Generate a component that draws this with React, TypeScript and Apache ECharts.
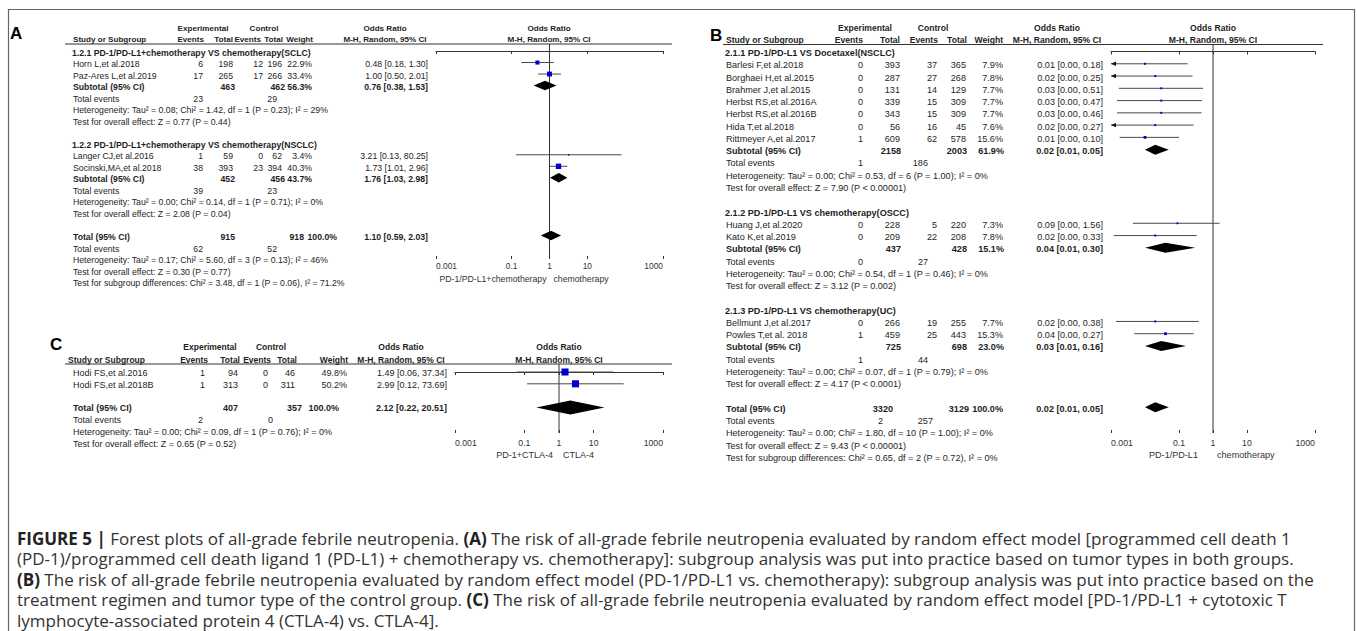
import React, { useEffect, useRef } from "react";
import * as echarts from "echarts";

const FONT = '"Liberation Sans", Arial, Helvetica, sans-serif';
const CAP_FONT = '"Open Sans", "Liberation Sans", Arial, sans-serif';

// ===================== Panel A data =====================
const aGroupTitles = [
  "1.2.1 PD-1/PD-L1+chemotherapy VS chemotherapy(SCLC)",
  "1.2.2 PD-1/PD-L1+chemotherapy VS chemotherapy(NSCLC)",
];
const aStudies = ["Horn L,et al.2018", "Paz-Ares L,et al.2019", "Langer CJ,et al.2016", "Socinski,MA,et al.2018"];
const aStudyGroup = [0, 0, 1, 1];
const aExpEvents = [6, 17, 1, 38];
const aExpTotal = [198, 265, 59, 393];
const aCtlEvents = [12, 17, 0, 23];
const aCtlTotal = [196, 266, 62, 394];
const aWeight = [22.9, 33.4, 3.4, 40.3];
const aOR = [0.48, 1.0, 3.21, 1.73];
const aLow = [0.18, 0.5, 0.13, 1.01];
const aHigh = [1.3, 2.01, 80.25, 2.96];
const aSubExpTotal = [463, 452];
const aSubCtlTotal = [462, 456];
const aSubWeight = [56.3, 43.7];
const aSubExpEvents = [23, 39];
const aSubCtlEvents = [29, 23];
const aSubOR = [0.76, 1.76];
const aSubLow = [0.38, 1.03];
const aSubHigh = [1.53, 2.98];
const aSubHet = [
  "Heterogeneity: Tau² = 0.08; Chi² = 1.42, df = 1 (P = 0.23); I² = 29%",
  "Heterogeneity: Tau² = 0.00; Chi² = 0.14, df = 1 (P = 0.71); I² = 0%",
];
const aSubTest = ["Test for overall effect: Z = 0.77 (P = 0.44)", "Test for overall effect: Z = 2.08 (P = 0.04)"];
const aTotalN = [915, 918];
const aTotalEvents = [62, 52];
const aTotalOR = [1.1, 0.59, 2.03];
const aTotalNotes = [
  "Heterogeneity: Tau² = 0.17; Chi² = 5.60, df = 3 (P = 0.13); I² = 46%",
  "Test for overall effect: Z = 0.30 (P = 0.77)",
  "Test for subgroup differences: Chi² = 3.48, df = 1 (P = 0.06), I² = 71.2%",
];
const aSides = ["PD-1/PD-L1+chemotherapy", "chemotherapy"];

// ===================== Panel B data =====================
const bGroupTitles = [
  "2.1.1 PD-1/PD-L1 VS Docetaxel(NSCLC)",
  "2.1.2 PD-1/PD-L1 VS chemotherapy(OSCC)",
  "2.1.3 PD-1/PD-L1 VS chemotherapy(UC)",
];
const bStudies = [
  "Barlesi F,et al.2018",
  "Borghaei H,et al.2015",
  "Brahmer J,et al.2015",
  "Herbst RS,et al.2016A",
  "Herbst RS,et al.2016B",
  "Hida T,et al.2018",
  "Rittmeyer A,et al.2017",
  "Huang J,et al.2020",
  "Kato K,et al.2019",
  "Bellmunt J,et al.2017",
  "Powles T,et al. 2018",
];
const bStudyGroup = [0, 0, 0, 0, 0, 0, 0, 1, 1, 2, 2];
const bExpEvents = [0, 0, 0, 0, 0, 0, 1, 0, 0, 0, 1];
const bExpTotal = [393, 287, 131, 339, 343, 56, 609, 228, 209, 266, 459];
const bCtlEvents = [37, 27, 14, 15, 15, 16, 62, 5, 22, 19, 25];
const bCtlTotal = [365, 268, 129, 309, 309, 45, 578, 220, 208, 255, 443];
const bWeight = [7.9, 7.8, 7.7, 7.7, 7.7, 7.6, 15.6, 7.3, 7.8, 7.7, 15.3];
const bOR = [0.01, 0.02, 0.03, 0.03, 0.03, 0.02, 0.01, 0.09, 0.02, 0.02, 0.04];
const bLow = [0.0005, 0.0006, 0.0017, 0.0015, 0.0015, 0.0006, 0.0018, 0.0044, 0.0012, 0.0014, 0.0048];
const bHigh = [0.18, 0.25, 0.51, 0.47, 0.46, 0.27, 0.1, 1.56, 0.33, 0.38, 0.27];
const bSubExpTotal = [2158, 437, 725];
const bSubCtlTotal = [2003, 428, 698];
const bSubWeight = [61.9, 15.1, 23.0];
const bSubExpEvents = [1, 0, 1];
const bSubCtlEvents = [186, 27, 44];
const bSubOR = [0.02, 0.04, 0.03];
const bSubLow = [0.01, 0.01, 0.01];
const bSubHigh = [0.05, 0.3, 0.16];
const bSubHet = [
  "Heterogeneity: Tau² = 0.00; Chi² = 0.53, df = 6 (P = 1.00); I² = 0%",
  "Heterogeneity: Tau² = 0.00; Chi² = 0.54, df = 1 (P = 0.46); I² = 0%",
  "Heterogeneity: Tau² = 0.00; Chi² = 0.07, df = 1 (P = 0.79); I² = 0%",
];
const bSubTest = [
  "Test for overall effect: Z = 7.90 (P < 0.00001)",
  "Test for overall effect: Z = 3.12 (P = 0.002)",
  "Test for overall effect: Z = 4.17 (P < 0.0001)",
];
const bTotalN = [3320, 3129];
const bTotalEvents = [2, 257];
const bTotalOR = [0.02, 0.01, 0.05];
const bTotalNotes = [
  "Heterogeneity: Tau² = 0.00; Chi² = 1.80, df = 10 (P = 1.00); I² = 0%",
  "Test for overall effect: Z = 9.43 (P < 0.00001)",
  "Test for subgroup differences: Chi² = 0.65, df = 2 (P = 0.72), I² = 0%",
];
const bSides = ["PD-1/PD-L1", "chemotherapy"];

// ===================== Panel C data =====================
const cStudies = ["Hodi FS,et al.2016", "Hodi FS,et al.2018B"];
const cExpEvents = [1, 1];
const cExpTotal = [94, 313];
const cCtlEvents = [0, 0];
const cCtlTotal = [46, 311];
const cWeight = [49.8, 50.2];
const cOR = [1.49, 2.99];
const cLow = [0.06, 0.12];
const cHigh = [37.34, 73.69];
const cTotalN = [407, 357];
const cTotalEvents = [2, 0];
const cTotalOR = [2.12, 0.22, 20.51];
const cTotalNotes = [
  "Heterogeneity: Tau² = 0.00; Chi² = 0.09, df = 1 (P = 0.76); I² = 0%",
  "Test for overall effect: Z = 0.65 (P = 0.52)",
];
const cSides = ["PD-1+CTLA-4", "CTLA-4"];

// ===================== shared =====================
const orTicks = [0.001, 0.1, 1, 10, 1000];
const headerTop = ["Experimental", "Control", "Odds Ratio", "Odds Ratio"];
const headerCols = ["Study or Subgroup", "Events", "Total", "Events", "Total", "Weight", "M-H, Random, 95% CI", "M-H, Random, 95% CI"];

const captionLines = [
  "**FIGURE 5 |** Forest plots of all-grade febrile neutropenia. **(A)** The risk of all-grade febrile neutropenia evaluated by random effect model [programmed cell death 1",
  "(PD-1)/programmed cell death ligand 1 (PD-L1) + chemotherapy vs. chemotherapy]: subgroup analysis was put into practice based on tumor types in both groups.",
  "**(B)** The risk of all-grade febrile neutropenia evaluated by random effect model (PD-1/PD-L1 vs. chemotherapy): subgroup analysis was put into practice based on the",
  "treatment regimen and tumor type of the control group. **(C)** The risk of all-grade febrile neutropenia evaluated by random effect model [PD-1/PD-L1 + cytotoxic T",
  "lymphocyte-associated protein 4 (CTLA-4) vs. CTLA-4].",
];

// ===================== panel objects =====================
const panelA = {
  label: "A", groupTitles: aGroupTitles, studies: aStudies, studyGroup: aStudyGroup,
  expEvents: aExpEvents, expTotal: aExpTotal, ctlEvents: aCtlEvents, ctlTotal: aCtlTotal,
  weight: aWeight, or: aOR, low: aLow, high: aHigh,
  subExpTotal: aSubExpTotal, subCtlTotal: aSubCtlTotal, subWeight: aSubWeight,
  subExpEvents: aSubExpEvents, subCtlEvents: aSubCtlEvents, subOR: aSubOR, subLow: aSubLow, subHigh: aSubHigh,
  subHet: aSubHet, subTest: aSubTest, totalN: aTotalN, totalEvents: aTotalEvents, totalOR: aTotalOR,
  totalNotes: aTotalNotes, sides: aSides,
};
const panelB = {
  label: "B", groupTitles: bGroupTitles, studies: bStudies, studyGroup: bStudyGroup,
  expEvents: bExpEvents, expTotal: bExpTotal, ctlEvents: bCtlEvents, ctlTotal: bCtlTotal,
  weight: bWeight, or: bOR, low: bLow, high: bHigh,
  subExpTotal: bSubExpTotal, subCtlTotal: bSubCtlTotal, subWeight: bSubWeight,
  subExpEvents: bSubExpEvents, subCtlEvents: bSubCtlEvents, subOR: bSubOR, subLow: bSubLow, subHigh: bSubHigh,
  subHet: bSubHet, subTest: bSubTest, totalN: bTotalN, totalEvents: bTotalEvents, totalOR: bTotalOR,
  totalNotes: bTotalNotes, sides: bSides,
};
const panelC = {
  label: "C", groupTitles: [] as string[], studies: cStudies, studyGroup: cStudies.map(() => 0),
  expEvents: cExpEvents, expTotal: cExpTotal, ctlEvents: cCtlEvents, ctlTotal: cCtlTotal,
  weight: cWeight, or: cOR, low: cLow, high: cHigh,
  subExpTotal: [], subCtlTotal: [], subWeight: [], subExpEvents: [], subCtlEvents: [],
  subOR: [], subLow: [], subHigh: [], subHet: [], subTest: [],
  totalN: cTotalN, totalEvents: cTotalEvents, totalOR: cTotalOR, totalNotes: cTotalNotes, sides: cSides,
};

// ===================== layouts (positions only) =====================
const layoutA = {
  fs: 8.7, hfs: 8.1, labelX: 10, labelY: 33, h1Y: 28, h2Y: 39.5, lineY: 44, lineX0: 65, lineX1: 672,
  topC: [203, 264, 385, 549],
  colX: [73, 204, 233, 261, 283, 313, 385, 549],
  nameX: 73, col: [203, 233, 263, 282, 312], subCol: [235, 285, 312], evCol: [203, 277],
  totCol: [235, 304, 337], totEvCol: [203, 277], orR: 428,
  y0: 52.5, dy: 11.53, markDy: -1.5,
  grid: { left: 436, top: 44, width: 227, height: 215 },
  tickMargin: 3, sideY: 279, sideGap: [3, 4], diamondH: 9.5, sqK: 0.85, sqMin: 1.6,
};
const layoutB = {
  fs: 9.1, hfs: 8.6, labelX: 710, labelY: 35, h1Y: 28, h2Y: 39.5, lineY: 44.5, lineX0: 723, lineX1: 1323,
  topC: [865, 933, 1057, 1213],
  colX: [726, 863, 900, 938, 967, 1003, 1057, 1213],
  nameX: 726, col: [863, 900, 937, 966, 1003], subCol: [901, 967, 1004], evCol: [863, 928],
  totCol: [893, 969, 1003], totEvCol: [883, 933], orR: 1103,
  y0: 53, dy: 12.27, markDy: -1.5,
  grid: { left: 1111, top: 44.5, width: 204, height: 388.5 },
  tickMargin: 5, sideY: 455, sideGap: [15, 4], diamondH: 10, sqK: 0.7, sqMin: 1.8,
};
const layoutC = {
  fs: 9, hfs: 8.5, labelX: 50, labelY: 344, h1Y: 347, h2Y: 360, lineY: 364, lineX0: 65, lineX1: 672,
  topC: [210, 271, 401, 559],
  colX: [68, 208, 240, 271, 297, 348, 401, 559],
  nameX: 73, col: [205, 238, 268, 295, 347], subCol: [], evCol: [203, 273],
  totCol: [238, 302, 339], totEvCol: [203, 273], orR: 447,
  y0: 373, dy: 11.8, markDy: -1,
  grid: { left: 455, top: 364, width: 208, height: 69 },
  tickMargin: 5, sideY: 455, sideGap: [6, 4], diamondH: 14, sqK: 1.0, sqMin: 1.8,
};

// ===================== builders =====================
const f2 = (v: number) => v.toFixed(2);
const orStr = (e: number, l: number, h: number) => `${f2(e)} [${f2(l)}, ${f2(h)}]`;
const fmtTick = (v: number) => {
  const e = Math.round(Math.log10(v));
  return e >= 0 ? String(Math.round(Math.pow(10, e))) : Math.pow(10, e).toFixed(-e);
};
const sum = (a: number[]) => a.reduce((s, v) => s + v, 0);

type Line = { kind: string; idx: number };

function buildLines(p: any): Line[] {
  const lines: Line[] = [];
  if (p.groupTitles.length) {
    p.groupTitles.forEach((_t: string, g: number) => {
      lines.push({ kind: "title", idx: g });
      p.studies.forEach((_s: string, i: number) => {
        if (p.studyGroup[i] === g) lines.push({ kind: "study", idx: i });
      });
      lines.push({ kind: "sub", idx: g }, { kind: "subEv", idx: g }, { kind: "subHet", idx: g }, { kind: "subTest", idx: g }, { kind: "blank", idx: -1 });
    });
  } else {
    p.studies.forEach((_s: string, i: number) => lines.push({ kind: "study", idx: i }));
    lines.push({ kind: "blank", idx: -1 });
  }
  lines.push({ kind: "tot", idx: 0 }, { kind: "totEv", idx: 0 });
  p.totalNotes.forEach((_n: string, k: number) => lines.push({ kind: "note", idx: k }));
  return lines;
}

function buildPanel(p: any, L: any, gi: number) {
  const g: any[] = [];
  const T = (text: string | number, x: number, y: number, o: any = {}) => {
    const size = o.size || L.fs;
    g.push({
      type: "text", silent: true, x, y, z: 10,
      style: {
        text: String(text), fill: o.fill || "#1e1e1e",
        font: `${o.bold ? "bold " : ""}${size}px ${o.family || FONT}`,
        align: o.align || "left", textAlign: o.align || "left",
        verticalAlign: "middle", textVerticalAlign: "middle",
      },
    });
  };
  // panel letter
  T(p.label, L.labelX, L.labelY, { bold: true, size: 17, family: "Arial, 'Liberation Sans', sans-serif", fill: "#000" });
  // header row 1
  headerTop.forEach((h, k) => T(h, L.topC[k], L.h1Y, { bold: true, align: "center", size: L.hfs }));
  // header row 2
  headerCols.forEach((h, k) => {
    const align = k === 0 ? "left" : k >= 6 ? "center" : "right";
    T(h, L.colX[k], L.h2Y, { bold: true, align, size: L.hfs });
  });
  g.push({
    type: "line", silent: true, z: 5,
    shape: { x1: L.lineX0, y1: L.lineY, x2: L.lineX1, y2: L.lineY },
    style: { stroke: "#333", lineWidth: 1 },
  });

  const lines = buildLines(p);
  const rowY = (i: number) => L.y0 + i * L.dy;
  const studyRow: number[] = [];
  const subRow: number[] = [];
  let totRow = 0;
  const totW = p.subWeight.length ? sum(p.subWeight) : sum(p.weight);

  lines.forEach((ln, i) => {
    const y = rowY(i);
    const k = ln.idx;
    switch (ln.kind) {
      case "title":
        T(p.groupTitles[k], L.nameX - 1, y, { bold: true });
        break;
      case "study":
        studyRow[k] = i;
        T(p.studies[k], L.nameX, y);
        T(p.expEvents[k], L.col[0], y, { align: "right" });
        T(p.expTotal[k], L.col[1], y, { align: "right" });
        T(p.ctlEvents[k], L.col[2], y, { align: "right" });
        T(p.ctlTotal[k], L.col[3], y, { align: "right" });
        T(p.weight[k].toFixed(1) + "%", L.col[4], y, { align: "right" });
        T(orStr(p.or[k], p.low[k], p.high[k]), L.orR, y, { align: "right" });
        break;
      case "sub":
        subRow[k] = i;
        T("Subtotal (95% CI)", L.nameX, y, { bold: true });
        T(p.subExpTotal[k], L.subCol[0], y, { align: "right", bold: true });
        T(p.subCtlTotal[k], L.subCol[1], y, { align: "right", bold: true });
        T(p.subWeight[k].toFixed(1) + "%", L.subCol[2], y, { align: "right", bold: true });
        T(orStr(p.subOR[k], p.subLow[k], p.subHigh[k]), L.orR, y, { align: "right", bold: true });
        break;
      case "subEv":
        T("Total events", L.nameX, y);
        T(p.subExpEvents[k], L.evCol[0], y, { align: "right" });
        T(p.subCtlEvents[k], L.evCol[1], y, { align: "right" });
        break;
      case "subHet":
        T(p.subHet[k], L.nameX, y);
        break;
      case "subTest":
        T(p.subTest[k], L.nameX, y);
        break;
      case "tot":
        totRow = i;
        T("Total (95% CI)", L.nameX, y, { bold: true });
        T(p.totalN[0], L.totCol[0], y, { align: "right", bold: true });
        T(p.totalN[1], L.totCol[1], y, { align: "right", bold: true });
        T(totW.toFixed(1) + "%", L.totCol[2], y, { align: "right", bold: true });
        T(orStr(p.totalOR[0], p.totalOR[1], p.totalOR[2]), L.orR, y, { align: "right", bold: true });
        break;
      case "totEv":
        T("Total events", L.nameX, y);
        T(p.totalEvents[0], L.totEvCol[0], y, { align: "right" });
        T(p.totalEvents[1], L.totEvCol[1], y, { align: "right" });
        break;
      case "note":
        T(p.totalNotes[k], L.nameX, y);
        break;
    }
  });

  // side labels under axis
  const oneX = L.grid.left + L.grid.width / 2;
  T(p.sides[0], oneX - L.sideGap[0], L.sideY, { align: "right", fill: "#333" });
  T(p.sides[1], oneX + L.sideGap[1], L.sideY, { align: "left", fill: "#333" });

  // axes
  const yBase = L.y0 + L.markDy;
  const yMin = (L.grid.top - yBase) / L.dy;
  const yMax = (L.grid.top + L.grid.height - yBase) / L.dy;
  const grid = { left: L.grid.left, top: L.grid.top, width: L.grid.width, height: L.grid.height, containLabel: false };
  const xBase = {
    gridIndex: gi, type: "log", logBase: 10, min: 0.001, max: 1000,
    splitLine: { show: false }, minorTick: { show: false }, minorSplitLine: { show: false }, position: "bottom",
  };
  const xAxes = [
    {
      ...xBase,
      axisLine: { show: true, lineStyle: { color: "#333", width: 1 } },
      axisTick: { show: true, length: 3, customValues: orTicks, lineStyle: { color: "#333" } },
      axisLabel: {
        show: true, customValues: orTicks, formatter: fmtTick, fontSize: L.fs - 0.3, fontFamily: FONT,
        color: "#333", margin: L.tickMargin, alignMinLabel: "left", alignMaxLabel: "right",
        showMinLabel: true, showMaxLabel: true, hideOverlap: false,
      },
    },
    {
      ...xBase,
      axisLine: { show: false },
      axisTick: { show: true, inside: true, length: 3, customValues: orTicks, lineStyle: { color: "#333" } },
      axisLabel: { show: false },
    },
  ];
  const yAxis = { gridIndex: gi, type: "value", inverse: true, min: yMin, max: yMax, show: false };

  const xi = gi * 2;
  const studyData = p.or.map((v: number, k: number) => [v, p.low[k], p.high[k], studyRow[k], p.weight[k]]);
  const diamondData = [
    ...p.subOR.map((v: number, k: number) => [v, p.subLow[k], p.subHigh[k], subRow[k]]),
    [p.totalOR[0], p.totalOR[1], p.totalOR[2], totRow],
  ];
  const series: any[] = [
    {
      type: "line", xAxisIndex: xi, yAxisIndex: gi, silent: true, showSymbol: false, z: 1,
      data: [[1, yMin], [1, yMax]], lineStyle: { color: "#333", width: 1 },
    },
    {
      type: "custom", xAxisIndex: xi, yAxisIndex: gi, silent: true, z: 3, clip: false,
      encode: { x: [0, 1, 2], y: 3 },
      data: studyData,
      renderItem: (_params: any, api: any) => {
        const e = api.value(0), lo = api.value(1), hi = api.value(2), row = api.value(3), w = api.value(4);
        const c = api.coord([e, row]);
        const l = api.coord([Math.max(lo, 0.001), row]);
        const h = api.coord([Math.min(hi, 1000), row]);
        const s = Math.max(L.sqMin, Math.sqrt(w) * L.sqK);
        const children: any[] = [
          { type: "line", shape: { x1: l[0], y1: c[1], x2: h[0], y2: c[1] }, style: { stroke: "#4a4a4a", lineWidth: 1 } },
          { type: "rect", shape: { x: c[0] - s / 2, y: c[1] - s / 2, width: s, height: s }, style: { fill: "#0000cc" } },
        ];
        if (lo < 0.001) {
          children.push({
            type: "polygon",
            shape: { points: [[l[0], c[1]], [l[0] + 5, c[1] - 2.2], [l[0] + 5, c[1] + 2.2]] },
            style: { fill: "#111" },
          });
        }
        return { type: "group", children };
      },
    },
    {
      type: "custom", xAxisIndex: xi, yAxisIndex: gi, silent: true, z: 4, clip: false,
      encode: { x: [0, 1, 2], y: 3 },
      data: diamondData,
      renderItem: (_params: any, api: any) => {
        const row = api.value(3);
        const c = api.coord([api.value(0), row]);
        const l = api.coord([api.value(1), row]);
        const h = api.coord([api.value(2), row]);
        const d = L.diamondH / 2;
        return {
          type: "polygon",
          shape: { points: [[l[0], c[1]], [c[0], c[1] - d], [h[0], c[1]], [c[0], c[1] + d]] },
          style: { fill: "#000" },
        };
      },
    },
  ];
  return { graphics: g, grid, xAxes, yAxis, series };
}

function captionGraphics() {
  const ys = [538, 558.6, 579.2, 599.8, 620.4];
  return captionLines.map((line, i) => {
    const rich = line.replace(/\*\*(.+?)\*\*/g, "{b|$1}");
    return {
      type: "text", silent: true, x: 17, y: ys[i], z: 10,
      style: {
        text: rich,
        font: `17px ${CAP_FONT}`,
        fill: "#333",
        verticalAlign: "middle", textVerticalAlign: "middle",
        rich: { b: { fontWeight: "bold", fontSize: 17, fontFamily: CAP_FONT, fill: "#222", color: "#222" } },
      },
    };
  });
}

function buildOption() {
  const parts = [buildPanel(panelA, layoutA, 0), buildPanel(panelB, layoutB, 1), buildPanel(panelC, layoutC, 2)];
  const border = {
    type: "rect", silent: true, z: 0,
    shape: { x: 8.5, y: 9.5, width: 1346, height: 625 },
    style: { fill: "none", stroke: "#666", lineWidth: 1.2 },
  };
  return {
    animation: false,
    backgroundColor: "#fff",
    grid: parts.map((p) => p.grid),
    xAxis: parts.flatMap((p) => p.xAxes),
    yAxis: parts.map((p) => p.yAxis),
    series: parts.flatMap((p) => p.series),
    graphic: { elements: [border, ...parts.flatMap((p) => p.graphics), ...captionGraphics()] },
  };
}

export default function App() {
  const ref = useRef<HTMLDivElement>(null);
  useEffect(() => {
    const chart = echarts.init(ref.current!, null, { renderer: "svg" });
    chart.setOption(buildOption() as any);
    return () => chart.dispose();
  }, []);
  return (
    <div
      ref={ref}
      style={{ position: "fixed", left: 0, top: 0, width: 1357, height: 631, background: "#fff" }}
    />
  );
}
